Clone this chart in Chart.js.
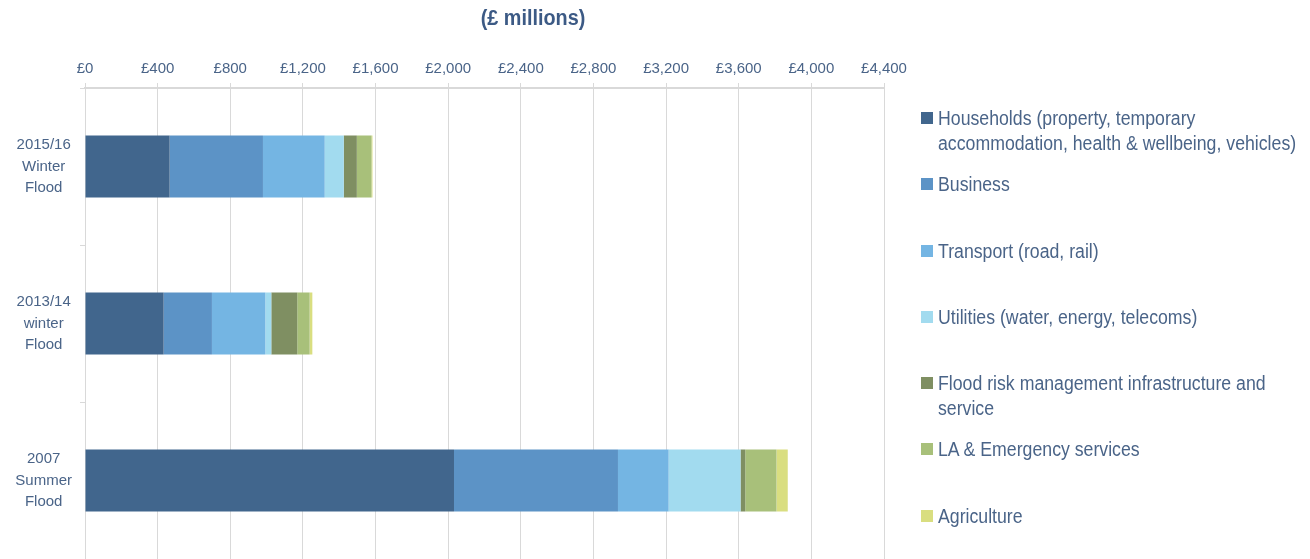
<!DOCTYPE html>
<html>
<head>
<meta charset="utf-8">
<script src="https://cdn.jsdelivr.net/npm/chart.js@4/dist/chart.umd.min.js"></script>
<style>
  body { margin: 0; background: #fff; }
  .wrap { position: relative; width: 1310px; height: 559px; overflow: hidden; }
  .plot { position: absolute; left: 0; top: 0; width: 930px; height: 559px; }
  #legend { position: absolute; left: 921px; top: 106px; font-family: 'Liberation Sans', Arial, sans-serif; font-size: 20px; color: #4A6488; }
  #legend .item { position: relative; padding-left: 17px; line-height: 25px; height: 66.3px; white-space: nowrap; }
  #legend .txt { display: inline-block; transform: scaleX(0.885); transform-origin: left top; }
  #legend .box { position: absolute; left: 0; top: 6px; width: 12px; height: 12px; }
</style>
</head>
<body>
<div class="wrap">
  <div class="plot"><canvas id="floodChart"></canvas></div>
  <div id="legend"></div>
</div>
<script>
// Cost of floods by sector (£ millions)
const categories = [['2015/16', 'Winter', 'Flood'], ['2013/14', 'winter', 'Flood'], ['2007', 'Summer', 'Flood']];
const seriesNames = [
  ['Households (property, temporary', 'accommodation, health & wellbeing, vehicles)'],
  ['Business'],
  ['Transport (road, rail)'],
  ['Utilities (water, energy, telecoms)'],
  ['Flood risk management infrastructure and', 'service'],
  ['LA & Emergency services'],
  ['Agriculture']
];
const households = [466, 433, 2032];
const business = [514, 266, 903];
const transport = [340, 294, 279];
const utilities = [105, 33, 396];
const floodRisk = [72, 143, 26];
const emergency = [81, 68, 172];
const agriculture = [5, 15, 62];
const xTicks = [0, 400, 800, 1200, 1600, 2000, 2400, 2800, 3200, 3600, 4000, 4400];

const colors = ['#41668D', '#5C93C6', '#74B5E3', '#A2DBEF', '#7F8F62', '#A8C07A', '#D9DE80'];
const values = [households, business, transport, utilities, floodRisk, emergency, agriculture];

const textColor = '#4A6488';
const fontFam = "'Liberation Sans', Arial, sans-serif";

const titlePlugin = {
  id: 'topTitle',
  afterDraw(chart) {
    const c = chart.ctx;
    c.save();
    c.font = "bold 22px " + fontFam;
    c.fillStyle = '#3C5A85';
    c.textAlign = 'center';
    c.textBaseline = 'middle';
    c.translate(533, 19);
    c.scale(0.9, 1);
    c.fillText('(£ millions)', 0, 0);
    c.restore();
  }
};

const ctx = document.getElementById('floodChart');
const chart = new Chart(ctx, {
  type: 'bar',
  data: {
    labels: categories,
    datasets: values.map((v, i) => ({
      label: seriesNames[i].join(' '),
      data: v,
      backgroundColor: colors[i],
      borderWidth: 0,
      barPercentage: 0.395,
      categoryPercentage: 1
    }))
  },
  options: {
    indexAxis: 'y',
    responsive: true,
    maintainAspectRatio: false,
    animation: false,
    layout: { padding: { left: 0, right: 46, top: 0, bottom: 0 } },
    plugins: { legend: { display: false }, tooltip: { enabled: false } },
    scales: {
      x: {
        position: 'top',
        stacked: true,
        min: 0,
        max: 4400,
        afterBuildTicks: s => { s.ticks = xTicks.map(v => ({ value: v })); },
        afterFit: s => { s.height = 88; s.paddingLeft = 0; s.paddingRight = 0; },
        grid: { color: '#D9D9D9', lineWidth: 1, tickLength: 5 },
        border: { color: '#D9D9D9', width: 2 },
        ticks: {
          padding: 5,
          color: textColor,
          font: { family: fontFam, size: 15 },
          maxRotation: 0,
          callback: v => '£' + v.toLocaleString('en-GB')
        }
      },
      y: {
        stacked: true,
        afterFit: s => { s.width = 85; s.paddingTop = 0; s.paddingBottom = 0; },
        grid: { offset: true, drawOnChartArea: false, color: '#D9D9D9', tickLength: 5 },
        border: { color: '#D9D9D9', width: 1 },
        ticks: {
          padding: 8,
          crossAlign: 'center',
          color: textColor,
          font: { family: fontFam, size: 15, lineHeight: 1.43 }
        }
      }
    }
  },
  plugins: [titlePlugin]
});

// legend built from the datasets
const legend = document.getElementById('legend');
chart.data.datasets.forEach((ds, i) => {
  const item = document.createElement('div');
  item.className = 'item';
  const box = document.createElement('span');
  box.className = 'box';
  box.style.background = ds.backgroundColor;
  item.appendChild(box);
  const txt = document.createElement('span');
  txt.className = 'txt';
  txt.innerHTML = seriesNames[i].map(t => t.replace('&', '&amp;')).join('<br>');
  item.appendChild(txt);
  legend.appendChild(item);
});
</script>
</body>
</html>
